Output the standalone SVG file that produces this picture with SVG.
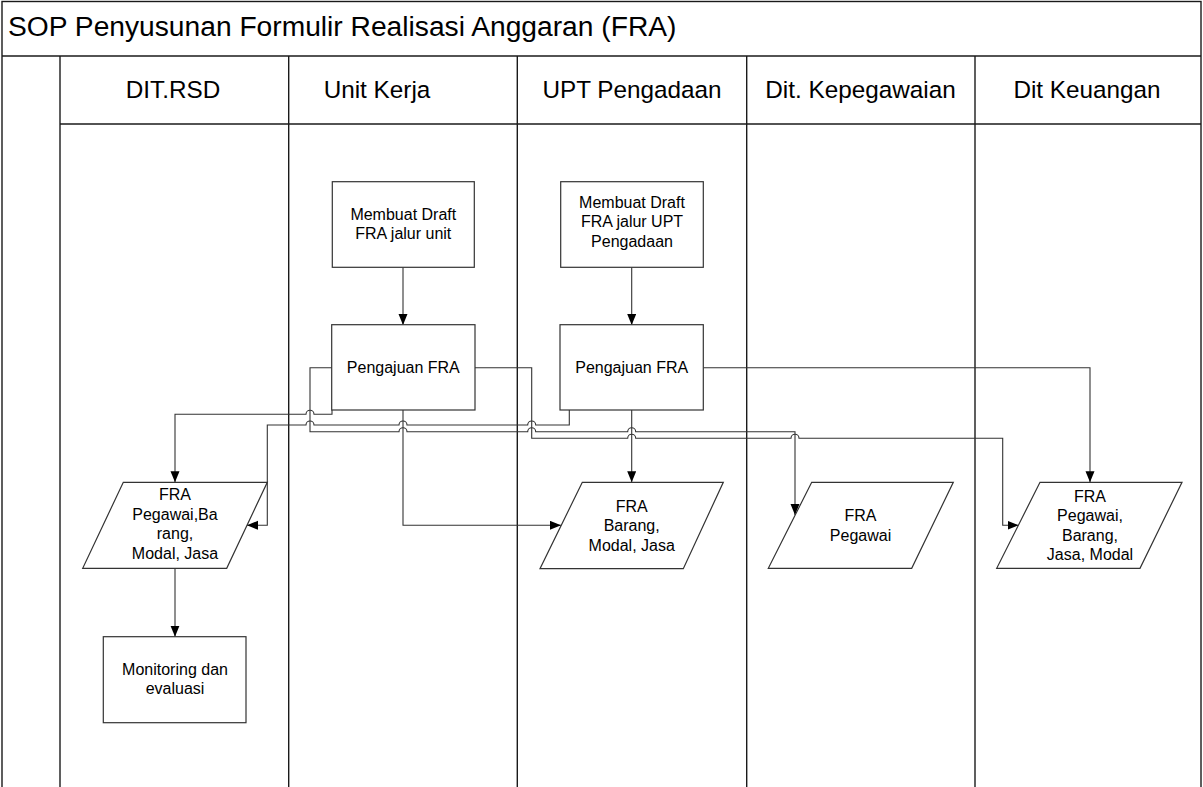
<svg xmlns="http://www.w3.org/2000/svg" width="1203" height="787" viewBox="0 0 1203 787">
  <style>
    .frame { fill: none; stroke: #1a1a1a; stroke-width: 1.4; }
    .lane { fill: none; stroke: #1a1a1a; stroke-width: 1.4; }
    .box { fill: #ffffff; stroke: #333333; stroke-width: 1.2; }
    .conn { fill: none; stroke: #333333; stroke-width: 1.1; }
    .title { font-family: "Liberation Sans", Arial, sans-serif; font-size: 28.2px; fill: #000; }
    .head { font-family: "Liberation Sans", Arial, sans-serif; font-size: 24.3px; fill: #000; text-anchor: middle; }
    .lbl { font-family: "Liberation Sans", Arial, sans-serif; font-size: 16px; fill: #000; text-anchor: middle; }
  </style>
  <defs>
    <marker id="arrow" markerUnits="userSpaceOnUse" markerWidth="12" markerHeight="10" refX="11" refY="4.5" orient="auto">
      <path d="M0,0 L11,4.5 L0,9 z" fill="#000"/>
    </marker>
  </defs>

  <rect x="0" y="0" width="1203" height="787" fill="#ffffff"/>

  <!-- pool frame, title bar and swimlanes -->
  <g id="pool">
    <rect class="frame" x="2" y="1.5" width="1199" height="800"/>
    <line class="lane" x1="2" y1="56" x2="1201" y2="56"/>
    <line class="lane" x1="60" y1="124" x2="1201" y2="124"/>
    <line class="lane" x1="60" y1="56" x2="60" y2="790"/>
    <line class="lane" x1="288.7" y1="56" x2="288.7" y2="790"/>
    <line class="lane" x1="517.3" y1="56" x2="517.3" y2="790"/>
    <line class="lane" x1="746.7" y1="56" x2="746.7" y2="790"/>
    <line class="lane" x1="975" y1="56" x2="975" y2="790"/>
    <text class="title" x="8" y="36">SOP Penyusunan Formulir Realisasi Anggaran (FRA)</text>
    <text class="head" x="173" y="97.5">DIT.RSD</text>
    <text class="head" x="377" y="97.5">Unit Kerja</text>
    <text class="head" x="632" y="97.5">UPT Pengadaan</text>
    <text class="head" x="860.5" y="97.5">Dit. Kepegawaian</text>
    <text class="head" x="1087" y="97.5">Dit Keuangan</text>
  </g>

  <!-- connectors (line hops are drawn as small arcs on the horizontal runs) -->
  <g id="connectors">
    <!-- draft unit -> pengajuan unit -->
    <path class="conn" d="M403,267.3 V325" marker-end="url(#arrow)"/>
    <!-- draft UPT -> pengajuan UPT -->
    <path class="conn" d="M631.7,267.3 V325" marker-end="url(#arrow)"/>
    <!-- pengajuan unit -> FRA DIT.RSD -->
    <path class="conn" d="M332,410 V414.3 H314 A4,4 0 0 0 306,414.3 H175 V482.3" marker-end="url(#arrow)"/>
    <!-- pengajuan unit -> FRA Dit. Kepegawaian -->
    <path class="conn" d="M332,367.7 H310 V431.7 H399 A4,4 0 0 1 407,431.7 H527.7 A4,4 0 0 1 535.7,431.7 H627.7 A4,4 0 0 1 635.7,431.7 H795 V515" marker-end="url(#arrow)"/>
    <!-- pengajuan UPT -> FRA DIT.RSD -->
    <path class="conn" d="M569.3,410 V425 H535.7 A4,4 0 0 0 527.7,425 H407 A4,4 0 0 0 399,425 H314 A4,4 0 0 0 306,425 H267.3 V525.3 H247" marker-end="url(#arrow)"/>
    <!-- pengajuan unit -> FRA Dit Keuangan -->
    <path class="conn" d="M475,367.7 H531.7 V438.3 H627.7 A4,4 0 0 1 635.7,438.3 H791 A4,4 0 0 1 799,438.3 H1002.7 V525.3 H1018.5" marker-end="url(#arrow)"/>
    <!-- pengajuan unit -> FRA UPT -->
    <path class="conn" d="M403,410 V525.3 H561" marker-end="url(#arrow)"/>
    <!-- pengajuan UPT -> FRA UPT -->
    <path class="conn" d="M631.7,410 V482.3" marker-end="url(#arrow)"/>
    <!-- pengajuan UPT -> FRA Dit Keuangan -->
    <path class="conn" d="M703.3,367.7 H1090 V482.3" marker-end="url(#arrow)"/>
    <!-- FRA DIT.RSD -> monitoring -->
    <path class="conn" d="M175,568.3 V636.7" marker-end="url(#arrow)"/>
  </g>

  <!-- process nodes -->
  <g id="draft-unit">
    <rect class="box" x="332.3" y="181.7" width="142" height="85.6"/>
    <text class="lbl" x="403.3" y="220">Membuat Draft</text>
    <text class="lbl" x="403.3" y="238.5">FRA jalur unit</text>
  </g>
  <g id="draft-upt">
    <rect class="box" x="560.7" y="181.7" width="142.6" height="85.6"/>
    <text class="lbl" x="632" y="207.7">Membuat Draft</text>
    <text class="lbl" x="632" y="227.2">FRA jalur UPT</text>
    <text class="lbl" x="632" y="246.7">Pengadaan</text>
  </g>
  <g id="pengajuan-unit">
    <rect class="box" x="331.7" y="324.7" width="143.3" height="85.3"/>
    <text class="lbl" x="403.3" y="373.3">Pengajuan FRA</text>
  </g>
  <g id="pengajuan-upt">
    <rect class="box" x="560" y="324.7" width="143.3" height="85.3"/>
    <text class="lbl" x="631.7" y="373.3">Pengajuan FRA</text>
  </g>
  <g id="monitoring">
    <rect class="box" x="103.3" y="636.7" width="142.7" height="86"/>
    <text class="lbl" x="175" y="675">Monitoring dan</text>
    <text class="lbl" x="175" y="694">evaluasi</text>
  </g>

  <!-- data (document) nodes -->
  <g id="fra-rsd">
    <polygon class="box" points="123.3,482.3 267.3,482.3 226.7,568.3 82.7,568.3"/>
    <text class="lbl" x="175" y="500">FRA</text>
    <text class="lbl" x="175" y="519.5">Pegawai,Ba</text>
    <text class="lbl" x="175" y="539">rang,</text>
    <text class="lbl" x="175" y="558.5">Modal, Jasa</text>
  </g>
  <g id="fra-upt">
    <polygon class="box" points="582.3,482.3 723.3,482.3 683.3,568.7 540,568.7"/>
    <text class="lbl" x="631.7" y="511.7">FRA</text>
    <text class="lbl" x="631.7" y="531.2">Barang,</text>
    <text class="lbl" x="631.7" y="550.7">Modal, Jasa</text>
  </g>
  <g id="fra-kepegawaian">
    <polygon class="box" points="811.7,482.3 953.3,482.3 911.7,568.3 768.3,568.3"/>
    <text class="lbl" x="860.5" y="521">FRA</text>
    <text class="lbl" x="860.5" y="540.5">Pegawai</text>
  </g>
  <g id="fra-keuangan">
    <polygon class="box" points="1040,482.3 1182,482.3 1140,568.3 996.7,568.3"/>
    <text class="lbl" x="1090" y="501.5">FRA</text>
    <text class="lbl" x="1090" y="521">Pegawai,</text>
    <text class="lbl" x="1090" y="540.5">Barang,</text>
    <text class="lbl" x="1090" y="560">Jasa, Modal</text>
  </g>
</svg>
